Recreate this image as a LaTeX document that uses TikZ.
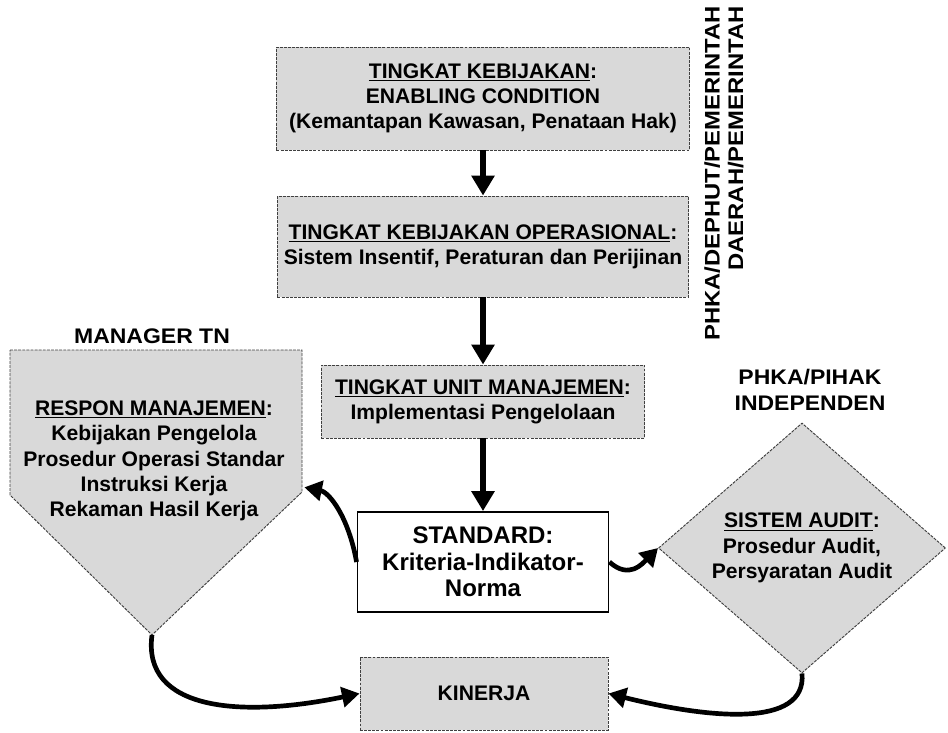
\documentclass[tikz,border=0pt]{standalone}
\usepackage{fontspec}
\setmainfont{Liberation Sans}
\newfontfamily\heavyfont[FakeStretch=1.09]{Liberation Sans}
\newfontfamily\tallfont[FakeStretch=1.13]{Liberation Sans}
\usetikzlibrary{shapes.geometric,arrows.meta}

\begin{document}
\begin{tikzpicture}[x=0.03cm,y=-0.03cm,
every node/.style={font=\fontsize{18}{21.5}\selectfont\bfseries, align=center, inner sep=0pt},
box/.style={draw=black!75, fill=gray!30, line width=0.8pt, dash pattern=on 2.5pt off 1pt},
stdbox/.style={draw=black, fill=white, line width=1.6pt, font=\fontsize{20.5}{22.5}\selectfont\bfseries},
heavy/.style={font=\fontsize{18}{22}\selectfont\heavyfont\bfseries},
conn/.style={line width=4.5pt, -{Triangle[length=17pt,width=19pt]}},
curv/.style={line width=4pt, -{Triangle[length=15pt,width=17pt]}}]
\useasboundingbox (0,0) rectangle (948,733);
\node[box, minimum width=12.39cm, minimum height=3.09cm] (kebijakan) at (483,98.5)
 {\underline{TINGKAT KEBIJAKAN}:\\ENABLING CONDITION\\(Kemantapan Kawasan, Penataan Hak)};
\node[box, minimum width=12.33cm, minimum height=3.03cm] (operasional) at (483,246.5)
 {\underline{TINGKAT KEBIJAKAN OPERASIONAL}:\\Sistem Insentif, Peraturan dan Perijinan};
\node[box, minimum width=9.69cm, minimum height=2.19cm] (unit) at (483,401.5)
 {\underline{TINGKAT UNIT MANAJEMEN}:\\Implementasi Pengelolaan};
\node[stdbox, minimum width=7.53cm, minimum height=3cm] (standard) at (483,562)
 {STANDARD:\\Kriteria-Indikator-\\Norma};
\node[box, minimum width=7.44cm, minimum height=2.19cm] (kinerja) at (484,693.5) {KINERJA};
\node[box, diamond, minimum width=8.61cm, minimum height=7.5cm] (audit) at (802,548)
 {\underline{SISTEM AUDIT}:\\Prosedur Audit,\\Persyaratan Audit};
\draw[box] (10,350) -- (302,350) -- (302,492) coordinate (resp-r) -- (152,635) coordinate (resp-s) -- (10,495) -- cycle;
\node (respon) at (154,461)
 {\underline{RESPON MANAJEMEN}:\\Kebijakan Pengelola\\Prosedur Operasi Standar\\Instruksi Kerja\\Rekaman Hasil Kerja};
\node[heavy] (manager) at (152,336) {MANAGER TN};
\node[heavy] (pihak) at (810,390) {PHKA/PIHAK\\INDEPENDEN};
\node[rotate=90, anchor=east, align=right, font=\fontsize{18}{20}\selectfont\tallfont\bfseries] (pemerintah) at (724,6)
 {PHKA/DEPHUT/PEMERINTAH\\DAERAH/PEMERINTAH};
\draw[conn] (kebijakan) -- (operasional);
\draw[conn] (operasional) -- (unit);
\draw[conn] (unit) -- (standard);
\draw[curv] (standard.west) .. controls +(-8,-45) and +(25,5) .. ([xshift=2pt,yshift=4pt]resp-r);
\draw[curv] (standard.east) .. controls +(20,18) and +(-15,15) .. (audit.west);
\draw[curv] (resp-s) .. controls +(-10,75) and +(-120,25) .. (kinerja.west);
\draw[curv] (audit.south) .. controls +(5,55) and +(100,25) .. (kinerja.east);
\end{tikzpicture}
\end{document}
